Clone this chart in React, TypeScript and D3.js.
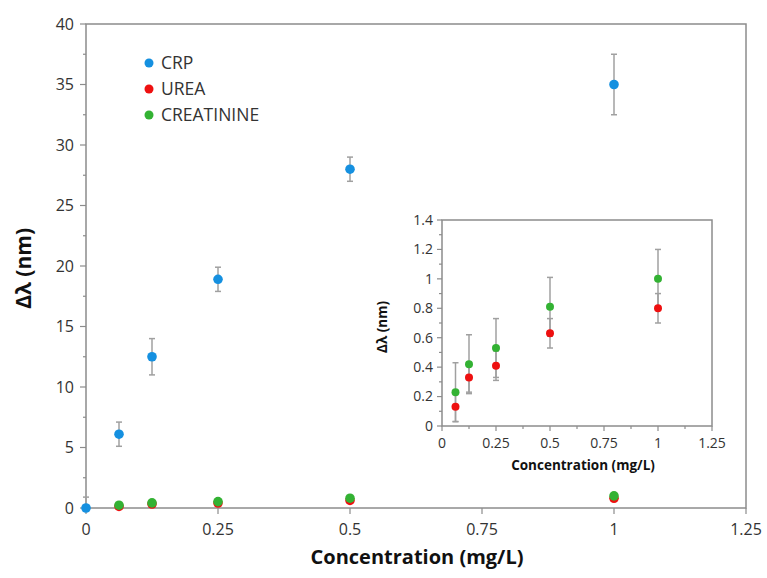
import React from "react";
import * as d3 from "d3";

const concentrations = [0, 0.0625, 0.125, 0.25, 0.5, 1];
const crpValues = [0, 6.1, 12.5, 18.9, 28, 35];
const crpErrors = [0.9, 1.0, 1.5, 1.0, 1.0, 2.5];

const smallConc = [0.0625, 0.125, 0.25, 0.5, 1];
const ureaValues = [0.13, 0.33, 0.41, 0.63, 0.8];
const ureaErrors = [0.1, 0.1, 0.1, 0.1, 0.1];
const creatValues = [0.23, 0.42, 0.53, 0.81, 1.0];
const creatErrors = [0.2, 0.2, 0.2, 0.2, 0.2];

const mainXTicks = [0, 0.25, 0.5, 0.75, 1, 1.25];
const mainYTicks = [0, 5, 10, 15, 20, 25, 30, 35, 40];
const mainYMinor = [2.5, 7.5, 12.5, 17.5, 22.5, 27.5, 32.5, 37.5];
const insetXTicks = [0, 0.25, 0.5, 0.75, 1, 1.25];
const insetXMinor = [0.125, 0.375, 0.625, 0.875, 1.125];
const insetYTicks = [0, 0.2, 0.4, 0.6, 0.8, 1, 1.2, 1.4];
const insetYMinor = [0.1, 0.3, 0.5, 0.7, 0.9, 1.1, 1.3];

const seriesNames = ["CRP", "UREA", "CREATININE"];
const seriesColors = ["#1590e0", "#ee1010", "#33b233"];

const FONT = "'Open Sans', 'DejaVu Sans', sans-serif";
const AXIS = "#8c8c8c";
const TEXT = "#333";
const ERR = "#a0a0a0";

function ErrBars({ xs, ys, es, x, y, cap = 3 }: any) {
  return (
    <g stroke={ERR} strokeWidth={1.5}>
      {xs.map((xv: number, i: number) => {
        const cx = x(xv);
        const top = y(ys[i] + es[i]);
        const bot = y(Math.max(ys[i] - es[i], y.domain()[0]));
        return (
          <g key={i}>
            <line x1={cx} x2={cx} y1={top} y2={bot} />
            <line x1={cx - cap} x2={cx + cap} y1={top} y2={top} />
            {ys[i] - es[i] >= y.domain()[0] && (
              <line x1={cx - cap} x2={cx + cap} y1={bot} y2={bot} />
            )}
          </g>
        );
      })}
    </g>
  );
}

function Dots({ xs, ys, x, y, color, r = 4.5 }: any) {
  return (
    <g fill={color}>
      {xs.map((xv: number, i: number) => (
        <circle key={i} cx={x(xv)} cy={y(ys[i])} r={r} />
      ))}
    </g>
  );
}

export default function App() {
  const W = 767;
  const H = 578;
  const x = d3.scaleLinear().domain([0, 1.25]).range([86, 746]);
  const y = d3.scaleLinear().domain([0, 40]).range([508, 24]);
  const ix = d3.scaleLinear().domain([0, 1.25]).range([442, 712]);
  const iy = d3.scaleLinear().domain([0, 1.4]).range([426, 220]);

  return (
    <svg width={W} height={H} style={{ position: "absolute", left: 0, top: 0, background: "#fff" }} fontFamily={FONT}>
      <rect width={W} height={H} fill="#fff" />
      {/* main frame */}
      <rect x={x(0)} y={y(40)} width={x(1.25) - x(0)} height={y(0) - y(40)} fill="none" stroke={AXIS} strokeWidth={1.5} />
      <g stroke={AXIS} strokeWidth={1.2}>
        {mainYTicks.map((t) => (
          <line key={t} x1={x(0) - 6} x2={x(0)} y1={y(t)} y2={y(t)} />
        ))}
        {mainYMinor.map((t) => (
          <line key={t} x1={x(0) - 3} x2={x(0)} y1={y(t)} y2={y(t)} />
        ))}
        {mainXTicks.map((t) => (
          <line key={t} x1={x(t)} x2={x(t)} y1={y(0)} y2={y(0) + 6} />
        ))}
      </g>
      <g fill={TEXT} fontSize={16}>
        {mainYTicks.map((t) => (
          <text key={t} x={x(0) - 12} y={y(t)} dy="0.35em" textAnchor="end">{t}</text>
        ))}
        {mainXTicks.map((t) => (
          <text key={t} x={x(t)} y={y(0) + 27} textAnchor="middle">{t}</text>
        ))}
      </g>
      <text x={417} y={564} textAnchor="middle" fontWeight="bold" fontSize={20} fill="#111">
        Concentration (mg/L)
      </text>
      <text transform={`translate(31,${y(19.8)}) rotate(-90)`} textAnchor="middle" fontWeight="bold" fontSize={21} fill="#111">
        Δλ (nm)
      </text>

      {/* main series */}
      <ErrBars xs={concentrations} ys={crpValues} es={crpErrors} x={x} y={y} cap={3} />
      <Dots xs={smallConc} ys={ureaValues} x={x} y={y} color={seriesColors[1]} r={4.8} />
      <Dots xs={smallConc} ys={creatValues} x={x} y={y} color={seriesColors[2]} r={4.8} />
      <Dots xs={concentrations} ys={crpValues} x={x} y={y} color={seriesColors[0]} r={4.8} />

      {/* legend */}
      <g fontSize={17.5} fill={TEXT}>
        {seriesNames.map((n, i) => (
          <g key={n} transform={`translate(149,${63 + i * 26})`}>
            <circle r={4.5} fill={seriesColors[i]} />
            <text x={12} dy="0.36em">{n}</text>
          </g>
        ))}
      </g>

      {/* inset */}
      <rect x={ix(0)} y={iy(1.4)} width={ix(1.25) - ix(0)} height={iy(0) - iy(1.4)} fill="#fff" stroke={AXIS} strokeWidth={1.5} />
      <g stroke={AXIS} strokeWidth={1.2}>
        {insetYTicks.map((t) => (
          <line key={t} x1={ix(0) - 5} x2={ix(0)} y1={iy(t)} y2={iy(t)} />
        ))}
        {insetYMinor.map((t) => (
          <line key={t} x1={ix(0) - 3} x2={ix(0)} y1={iy(t)} y2={iy(t)} />
        ))}
        {insetXTicks.map((t) => (
          <line key={t} x1={ix(t)} x2={ix(t)} y1={iy(0)} y2={iy(0) + 5} />
        ))}
        {insetXMinor.map((t) => (
          <line key={t} x1={ix(t)} x2={ix(t)} y1={iy(0)} y2={iy(0) + 3} />
        ))}
      </g>
      <g fill={TEXT} fontSize={14}>
        {insetYTicks.map((t) => (
          <text key={t} x={ix(0) - 9} y={iy(t)} dy="0.35em" textAnchor="end">{t}</text>
        ))}
        {insetXTicks.map((t) => (
          <text key={t} x={ix(t)} y={iy(0) + 22} textAnchor="middle">{t}</text>
        ))}
      </g>
      <text x={583} y={470} textAnchor="middle" fontWeight="bold" fontSize={13.5} fill="#111">
        Concentration (mg/L)
      </text>
      <text transform={`translate(387,${iy(0.7) + 4}) rotate(-90)`} textAnchor="middle" fontWeight="bold" fontSize={13.5} fill="#111">
        Δλ (nm)
      </text>
      <ErrBars xs={smallConc} ys={creatValues} es={creatErrors} x={ix} y={iy} cap={3} />
      <ErrBars xs={smallConc} ys={ureaValues} es={ureaErrors} x={ix} y={iy} cap={3} />
      <Dots xs={smallConc} ys={ureaValues} x={ix} y={iy} color={seriesColors[1]} r={4} />
      <Dots xs={smallConc} ys={creatValues} x={ix} y={iy} color={seriesColors[2]} r={4} />
    </svg>
  );
}
